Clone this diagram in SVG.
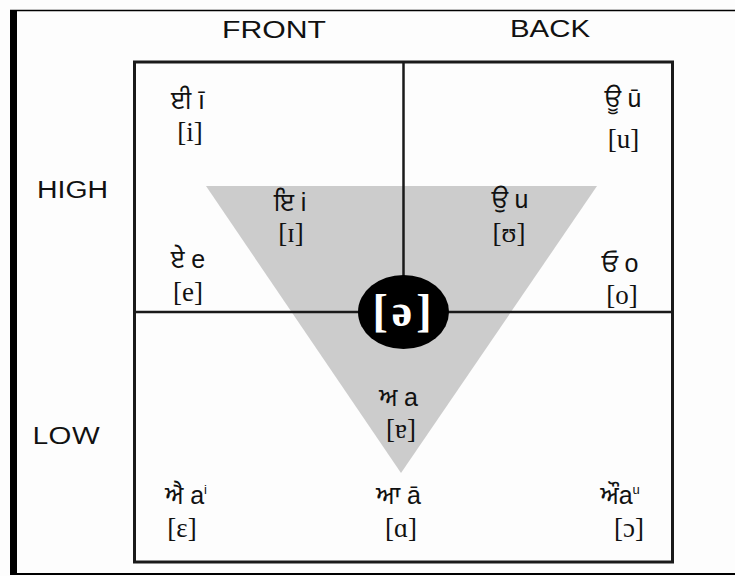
<svg xmlns="http://www.w3.org/2000/svg" width="735" height="576" viewBox="0 0 735 576">
<style>
.hdr{font-family:"Liberation Sans",Arial,sans-serif;font-size:23px;fill:#111}
.g{font-family:"Noto Sans Gurmukhi","Noto Sans","DejaVu Sans",sans-serif;font-size:25px;fill:#111;text-anchor:middle}
.r{font-family:"Liberation Sans",Arial,sans-serif}
.ipa{font-family:"Liberation Serif","Times New Roman",serif;font-size:27px;fill:#111;text-anchor:middle}
.sup{font-size:13px}
</style>
<rect x="0" y="0" width="735" height="576" fill="#fdfdfd"/>
<g id="frame">
<rect x="10" y="10" width="7" height="565" fill="#000"/>
<line x1="10" y1="10.5" x2="735" y2="10.5" stroke="#000" stroke-width="1.5"/>
<line x1="10" y1="574" x2="735" y2="574" stroke="#000" stroke-width="2"/>
</g>
<g id="labels">
<text class="hdr" x="222" y="38" textLength="104" lengthAdjust="spacingAndGlyphs">FRONT</text>
<text class="hdr" x="510" y="37" textLength="80" lengthAdjust="spacingAndGlyphs">BACK</text>
<text class="hdr" x="37" y="198" textLength="71" lengthAdjust="spacingAndGlyphs">HIGH</text>
<text class="hdr" x="32" y="444" textLength="68" lengthAdjust="spacingAndGlyphs" style="font-family:'Open Sans','Liberation Sans',sans-serif">LOW</text>
</g>
<g id="triangle">
<polygon points="206,186 597,186 401,473" fill="#cccccc"/>
</g>
<g id="connectors" stroke="#1a1a1a" fill="none">
<rect x="134.5" y="62" width="538" height="500" stroke-width="3"/>
<line x1="403.5" y1="62" x2="403.5" y2="312" stroke-width="2.5"/>
<line x1="134.5" y1="312" x2="672.5" y2="312" stroke-width="2.5"/>
</g>
<g id="schwa">
<ellipse cx="403.5" cy="312" rx="45.5" ry="37" fill="#000"/>
<text x="404" y="326" text-anchor="middle" style="font-family:'Liberation Serif','Times New Roman',serif;font-size:46px;font-weight:bold;fill:#fff;letter-spacing:4px">[ə]</text>
</g>
<g id="v-ii"><text class="g" x="188" y="109">ਈ <tspan class="r">ī</tspan></text><text class="ipa" x="190" y="141">[i]</text></g>
<g id="v-uu"><text class="g" x="623" y="107">ਊ <tspan class="r">ū</tspan></text><text class="ipa" x="623.5" y="148">[u]</text></g>
<g id="v-i"><text class="g" x="290" y="211">ਇ <tspan class="r">i</tspan></text><text class="ipa" x="291" y="242">[ɪ]</text></g>
<g id="v-u"><text class="g" x="510" y="208">ਉ <tspan class="r">u</tspan></text><text class="ipa" x="509" y="242">[ʊ]</text></g>
<g id="v-e"><text class="g" x="188" y="268">ਏ <tspan class="r">e</tspan></text><text class="ipa" x="188" y="301">[e]</text></g>
<g id="v-o"><text class="g" x="620" y="272">ਓ <tspan class="r">o</tspan></text><text class="ipa" x="622" y="304">[o]</text></g>
<g id="v-a"><text class="g" x="398.5" y="406">ਅ <tspan class="r">a</tspan></text><text class="ipa" x="401" y="438">[ɐ]</text></g>
<g id="v-ai"><text class="g" x="186" y="504">ਐ <tspan class="r">a</tspan><tspan class="r sup" dy="-10">i</tspan></text><text class="ipa" x="182" y="537">[ɛ]</text></g>
<g id="v-aa"><text class="g" x="398.5" y="504">ਆ <tspan class="r">ā</tspan></text><text class="ipa" x="401" y="537">[ɑ]</text></g>
<g id="v-au"><text class="g" x="620" y="504">ਔ<tspan class="r">a</tspan><tspan class="r sup" dy="-10">u</tspan></text><text class="ipa" x="629" y="537">[ɔ]</text></g>
</svg>
